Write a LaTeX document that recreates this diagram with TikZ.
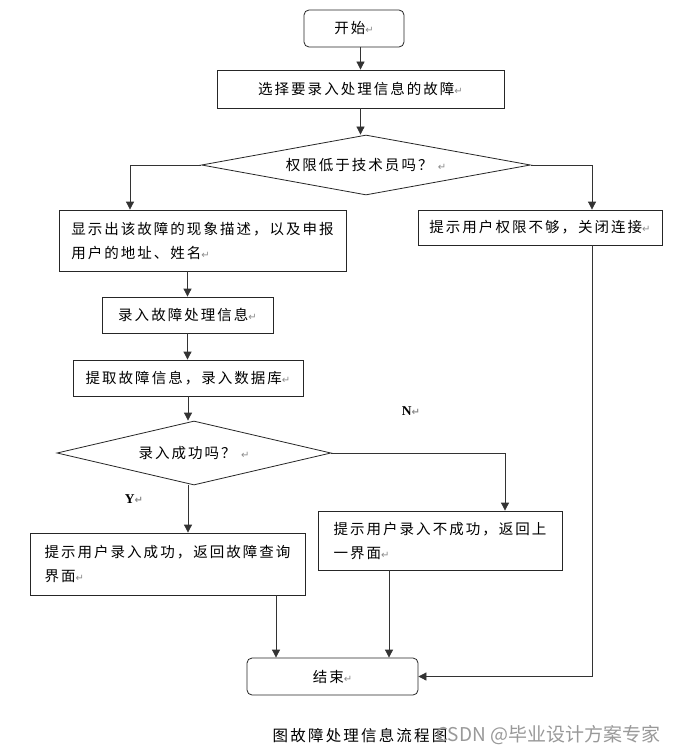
\documentclass[tikz,border=0pt]{standalone}
\usepackage{fontspec}
\usetikzlibrary{shapes.geometric,arrows.meta}
\newfontfamily\cjk[LetterSpace=14]{Noto Sans CJK SC}
\newfontfamily\cjkplain{Noto Sans CJK SC}
\newfontfamily\symf{DejaVu Sans}
\newfontfamily\serifb{Liberation Serif}
\newcommand{\retmark}{{\symf\color{black!45}\fontsize{10}{10}\selectfont ↵}}
\tikzset{
  every node/.style={font=\cjk\fontsize{14.5}{24}\selectfont, inner sep=0pt},
  box/.style={draw=black!85, rectangle, line width=0.8pt, align=left},
  rbox/.style={box, rounded corners=5pt},
  dia/.style={draw=black!85, diamond, aspect=5, line width=0.8pt},
  arr/.style={draw=black!80, line width=0.8pt, -{Triangle[length=8pt,width=8pt]}},
  lbl/.style={font=\serifb\bfseries\fontsize{13.5}{13.5}\selectfont}
}
\begin{document}
\begin{tikzpicture}[x=1pt,y=-1pt]
\useasboundingbox (0,0) rectangle (684,754);
\fill[white] (0,0) rectangle (684,754);

\coordinate (lx) at (130,0);
\coordinate (rx) at (592,0);
\coordinate (nx) at (505,0);
\coordinate (ax) at (276,0);
\coordinate (bx) at (389,0);

\node[rbox, minimum width=100, minimum height=37] (start) at (354,28.5) {开始\retmark};
\node[box, minimum width=287, minimum height=38] (sel) at (360.5,89) {选择要录入处理信息的故障\retmark};
\node[dia, minimum width=329, minimum height=60] (d1) at (366,165) {权限低于技术员吗？ \retmark};
\node[box, minimum width=287, minimum height=61] (show) at (202.5,240.5) {显示出该故障的现象描述，以及申报\\用户的地址、姓名\retmark};
\node[box, minimum width=244, minimum height=35] (deny) at (540,227.5) {提示用户权限不够，关闭连接\retmark};
\node[box, minimum width=171, minimum height=36] (rec) at (187.5,315) {录入故障处理信息\retmark};
\node[box, minimum width=230, minimum height=36] (ext) at (188,378) {提取故障信息，录入数据库\retmark};
\node[dia, minimum width=274, minimum height=64] (d2) at (194,453) {录入成功吗？ \retmark};
\node[box, minimum width=275, minimum height=62] (ok) at (167.5,564) {提示用户录入成功，返回故障查询\\界面\retmark};
\node[box, minimum width=244, minimum height=59] (fail) at (440,540.5) {提示用户录入不成功，返回上\\一界面\retmark};
\node[rbox, minimum width=171, minimum height=37] (end) at (332.5,676.5) {结束\retmark};

\node[lbl] (ylab) at (134,499) {Y\retmark};
\node[lbl] (nlab) at (411,411) {N\retmark};

\draw[arr] (start.south -| sel.north) -- (sel.north);
\draw[arr] (sel.south) -- (sel.south |- d1.north);
\draw[arr] (d1.west) -| (show.north -| lx);
\draw[arr] (d1.east) -| (deny.north -| rx);
\draw[arr] (show.south -| rec.north) -- (rec.north);
\draw[arr] (rec.south) -- (rec.south |- ext.north);
\draw[arr] (ext.south) -- (ext.south |- d2.north);
\draw[arr] (ext.south |- d2.south) -- (ext.south |- ok.north);
\draw[arr] (d2.east) -| (fail.north -| nx);
\draw[arr] (ok.south -| ax) -- (end.north -| ax);
\draw[arr] (fail.south -| bx) -- (end.north -| bx);
\draw[arr] (deny.south -| rx) |- (end.east);

\node[font=\cjk\fontsize{15.5}{16}\selectfont] (cap) at (360,736) {图故障处理信息流程图};
\node[anchor=west, text=black!40, font=\cjkplain\fontsize{19}{19}\selectfont] (wm) at (436,735) {CSDN @毕业设计方案专家};
\end{tikzpicture}
\end{document}
